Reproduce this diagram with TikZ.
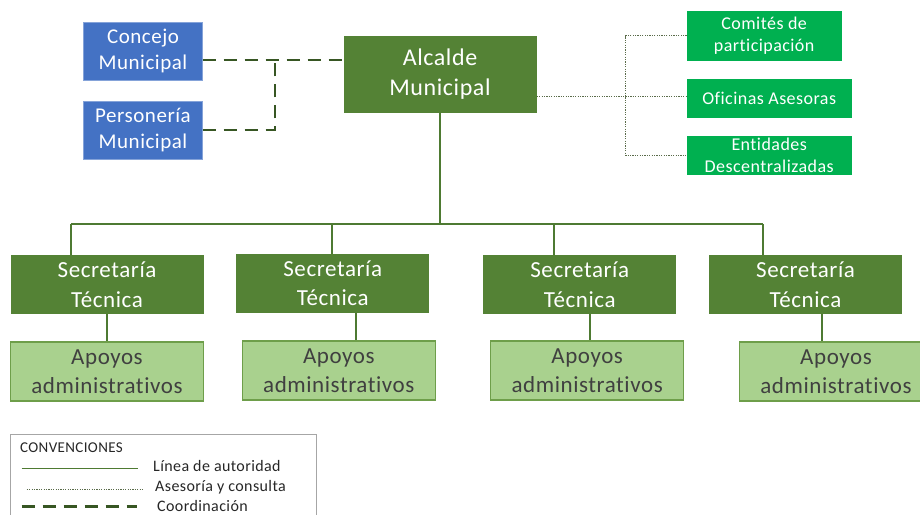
\documentclass[tikz,border=0pt]{standalone}
\usepackage{fontspec}
\setmainfont{Carlito}[LetterSpace=2.5, Ligatures=NoCommon]
\definecolor{concejoblue}{HTML}{4472C4}
\definecolor{alcaldegreen}{HTML}{548235}
\definecolor{asesorgreen}{HTML}{00B050}
\definecolor{apoyofill}{HTML}{A9D18E}
\definecolor{apoyodraw}{HTML}{6E9E4A}
\definecolor{linegreen}{HTML}{4E7A32}
\definecolor{coordgreen}{HTML}{375623}
\definecolor{dotgray}{HTML}{5A6B4A}
\begin{document}
\begin{tikzpicture}[
    x=1pt, y=-1pt,
    unit/.style={
        inner sep=0pt,
        align=center,
        text=white
    },
    junta/.style={
        unit,
        fill=concejoblue,
        draw=concejoblue!65!white,
        minimum width=119pt,
        minimum height=58pt,
        font=\fontsize{21}{26}\selectfont
    },
    alcalde/.style={
        unit,
        fill=alcaldegreen,
        minimum width=193pt,
        minimum height=77pt,
        font=\fontsize{24}{30}\selectfont
    },
    asesor/.style={
        unit,
        fill=asesorgreen,
        minimum width=165pt,
        minimum height=39pt,
        font=\fontsize{18}{22}\selectfont
    },
    secre/.style={
        unit,
        fill=alcaldegreen,
        minimum width=193pt,
        minimum height=59pt,
        font=\fontsize{23}{29.5}\selectfont
    },
    apoyo/.style={
        unit,
        fill=apoyofill,
        draw=apoyodraw,
        line width=1.2pt,
        text=black!75,
        minimum width=193pt,
        minimum height=59pt,
        font=\fontsize{23}{28.5}\selectfont
    },
    auth/.style={draw=linegreen, line width=1.2pt},
    advis/.style={draw=dotgray, line width=0.9pt, dash pattern=on 1.2pt off 1.2pt},
    coordline/.style={draw=coordgreen, line width=2.6pt, dash pattern=on 13pt off 8pt},
    leyenda/.style={
        font=\fontsize{16}{20}\selectfont,
        text=black!85,
        anchor=base west,
        inner sep=0pt
    }
]
\useasboundingbox (0,0) rectangle (920,514);

%--- Concejo y Personería ---
\node[junta] (concejo)    at (143,50.7) {Concejo\\Municipal};
\node[junta] (personeria) at (143,130)  {Personería\\Municipal};

%--- Alcalde ---
\node[alcalde] (alcalde) at (440,74.2) {Alcalde\\Municipal};

%--- Asesoría ---
\node[asesor, minimum width=155pt, minimum height=50pt]
    (comites) at (764.2,35.8) {Comités de\\participación};
\node[asesor] (oficinas)  at (769.2,98.5)  {Oficinas Asesoras};
\node[asesor] (entidades) at (769.2,155.5) {Entidades\\Descentralizadas};

%--- Secretarías y apoyos ---
\node[secre] (sec1) at (107,284.5)   {Secretaría\\Técnica};
\node[secre] (sec2) at (332.7,283.2) {Secretaría\\Técnica};
\node[secre] (sec3) at (579.7,284.7) {Secretaría\\Técnica};
\node[secre] (sec4) at (805.5,284.5) {Secretaría\\Técnica};
\node[apoyo] (apo1) at (107,371.5)   {Apoyos\\administrativos};
\node[apoyo] (apo2) at (338.8,370.5) {Apoyos\\administrativos};
\node[apoyo] (apo3) at (587.2,370.5) {Apoyos\\administrativos};
\node[apoyo] (apo4) at (836,371.5)   {Apoyos\\administrativos};

%--- Coordinación ---
\coordinate (cj) at (275,60);
\draw[coordline] (cj -| concejo.east) -- (cj -| alcalde.west);
\draw[coordline] (personeria.east) -| (cj);

%--- Asesoría y consulta ---
\coordinate (aj) at (625.7,96);
\draw[advis] (aj -| alcalde.east) -- (aj -| oficinas.west);
\draw[advis] (comites.west) -| (aj) |- (entidades.west);

%--- Línea de autoridad ---
\coordinate (barW) at (71,224);
\coordinate (barE) at (763,224);
\draw[auth] (alcalde.south) -- (alcalde.south |- barW);
\draw[auth] (barW) -- (barE);
\foreach \i/\dx/\lx in {1/71/107, 2/332/356, 3/554/590, 4/763/822} {
    \draw[auth] (sec\i.north -| \dx,0) -- (\dx,224);
    \draw[auth] (sec\i.south -| \lx,0) -- (apo\i.north -| \lx,0);
}

%--- Convenciones ---
\draw[draw=gray!70, line width=0.8pt] (10,434.3) rectangle (316,530);
\node[leyenda, font=\fontsize{15}{18}\selectfont] (convtitle) at (20,452) {CONVENCIONES};
\node[leyenda] (lgauth)  at (153,471.7) {Línea de autoridad};
\node[leyenda] (lgadvis) at (155,491.7) {Asesoría y consulta};
\node[leyenda] (lgcoord) at (157,511.7) {Coordinación};
\draw[auth] (21.7,468.3) -- (137.7,468.3);
\draw[advis, line width=0.6pt] (26.7,489) -- (143,489);
\draw[coordline] (21.7,506.7) -- (136.7,506.7);

\end{tikzpicture}
\end{document}
